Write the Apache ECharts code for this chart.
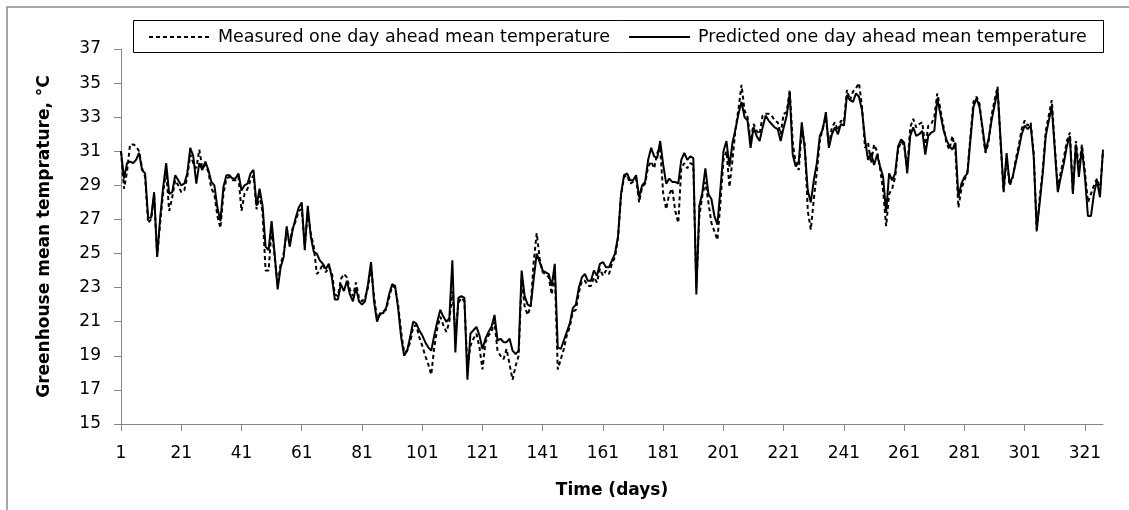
<!DOCTYPE html>
<html>
<head>
<meta charset="utf-8">
<script src="https://cdn.jsdelivr.net/npm/echarts@6/dist/echarts.min.js"></script>
<style>
html,body{margin:0;padding:0;background:#fff;}
#chart{width:1129px;height:510px;}
</style>
</head>
<body>
<div id="chart"></div>
<script>
// ---- data ----
const dayCount = 327;
const days = Array.from({length: dayCount}, (_, i) => String(i + 1));
const xTickLabels = ['1','21','41','61','81','101','121','141','161','181','201','221','241','261','281','301','321'];
const yTicks = [15,17,19,21,23,25,27,29,31,33,35,37];
const seriesNames = ['Measured one day ahead mean temperature', 'Predicted one day ahead mean temperature'];

const measured = [
31.0,28.8,29.8,31.4,31.4,31.3,31.0,30.0,29.5,26.8,
27.0,28.4,24.9,26.8,28.6,29.8,27.5,28.3,29.3,29.0,
28.6,28.7,29.5,30.8,30.3,30.0,31.1,30.0,30.2,29.8,
28.8,28.5,27.2,26.5,28.5,29.4,29.5,29.3,29.3,29.5,
27.5,28.5,28.8,29.3,29.6,27.6,28.4,27.4,24.0,24.0,
26.5,24.8,23.2,24.4,25.0,26.2,25.7,26.5,26.9,27.5,
27.6,25.5,27.4,26.2,25.4,23.8,24.0,24.4,23.9,24.2,
23.9,22.6,22.5,23.5,23.8,23.6,22.9,22.5,23.3,22.4,
22.2,22.4,23.0,24.2,22.5,21.2,21.4,21.6,21.7,22.4,
23.1,23.0,22.0,20.4,19.2,19.3,19.8,20.7,20.8,20.1,
19.6,19.0,18.5,17.9,19.5,20.6,21.3,20.8,20.4,21.0,
22.8,20.3,22.1,22.4,22.2,18.3,19.6,20.0,20.3,19.5,
18.2,19.8,20.2,20.4,21.0,19.3,19.0,18.8,19.4,18.5,
17.6,18.4,19.0,23.5,21.9,21.4,21.9,24.5,26.2,24.7,
23.9,23.8,23.6,22.6,24.0,18.2,18.8,19.4,20.2,20.7,
21.6,21.7,22.7,23.4,23.4,23.1,23.1,23.6,23.3,24.1,
23.7,24.0,23.8,24.4,24.8,25.9,28.4,29.5,29.6,29.1,
29.2,29.4,28.0,28.9,29.1,30.1,30.4,30.0,30.9,31.2,
28.5,27.6,28.5,28.8,27.5,26.8,30.0,30.3,30.0,30.3,
30.2,23.0,27.2,28.4,29.2,28.0,26.8,26.3,25.8,28.0,
30.5,31.0,28.9,30.5,32.3,33.5,34.9,33.4,33.0,31.6,
32.6,32.2,32.0,33.1,33.2,33.2,33.1,32.8,32.7,32.0,
33.2,33.3,34.6,31.5,30.3,29.9,32.3,31.4,27.5,26.4,
28.2,29.8,31.6,32.4,33.0,31.3,32.4,32.7,32.2,32.8,
32.7,34.6,34.0,34.5,34.7,35.0,33.6,31.2,31.5,30.3,
31.4,31.0,30.0,28.7,26.6,28.5,28.8,29.5,31.1,31.6,
31.3,30.0,32.4,32.9,32.4,32.6,32.7,31.2,32.5,32.6,
33.0,34.4,33.5,32.5,31.5,31.1,31.9,31.0,27.7,28.8,
29.3,29.8,31.9,33.9,34.2,33.8,32.2,30.9,31.5,33.1,
34.0,34.8,31.5,28.6,30.6,29.0,29.4,30.5,31.3,32.3,
32.8,32.5,32.7,30.9,26.3,28.3,29.9,32.2,33.1,34.0,
31.3,28.8,29.8,30.6,31.6,32.1,28.6,31.6,30.0,31.4,
29.8,28.0,28.5,29.0,29.4,28.7,31.0
];

const predicted = [
31.0,29.4,30.3,30.4,30.3,30.5,30.9,29.9,29.7,27.1,
27.1,28.6,24.8,27.1,28.9,30.3,28.5,28.6,29.6,29.3,
29.0,29.1,29.7,31.2,30.7,29.1,30.3,29.9,30.4,29.9,
29.2,29.0,27.7,26.9,28.9,29.6,29.6,29.4,29.4,29.7,
28.7,29.0,29.1,29.7,29.9,27.8,28.8,27.8,25.4,25.2,
26.9,25.0,22.9,24.2,24.8,26.6,25.4,26.4,27.1,27.7,
28.0,25.2,27.8,26.0,25.1,25.0,24.6,24.4,24.1,24.4,
23.6,22.3,22.3,23.2,22.8,23.4,22.6,22.2,23.0,22.2,
22.0,22.2,23.2,24.5,22.2,21.0,21.5,21.5,21.8,22.6,
23.2,23.1,21.8,20.1,19.0,19.3,20.1,21.0,20.9,20.5,
20.2,19.8,19.5,19.3,20.2,21.0,21.7,21.3,21.0,21.2,
24.6,19.2,22.4,22.5,22.4,17.6,20.3,20.5,20.7,20.2,
19.4,20.0,20.4,20.7,21.4,19.9,20.0,19.8,19.8,20.0,
19.3,19.1,19.3,24.0,22.5,22.0,21.9,23.5,25.0,24.5,
24.0,23.9,23.8,23.1,24.4,19.5,19.4,19.9,20.4,20.9,
21.8,22.0,23.0,23.6,23.8,23.4,23.4,24.0,23.7,24.4,
24.5,24.2,24.2,24.6,25.0,26.0,28.5,29.6,29.7,29.3,
29.3,29.6,28.3,29.0,29.2,30.5,31.2,30.7,30.6,31.6,
30.2,29.1,29.4,29.2,29.2,29.1,30.5,30.9,30.5,30.7,
30.6,22.6,27.8,28.6,30.0,28.5,28.2,27.2,26.7,28.8,
31.0,31.6,30.1,31.5,32.3,33.2,33.9,33.0,32.8,31.2,
32.4,31.9,31.6,32.4,33.1,32.8,32.6,32.4,32.3,31.6,
32.4,33.1,34.4,30.8,30.1,30.4,32.7,31.1,28.7,28.0,
29.3,30.3,31.9,32.3,33.3,31.2,32.0,32.4,32.0,32.6,
32.5,34.3,34.0,33.9,34.4,34.2,33.4,31.7,30.5,30.9,
30.2,30.8,30.1,29.5,27.4,29.7,29.3,29.7,31.3,31.7,
31.5,29.7,31.9,32.4,31.9,32.0,32.2,30.8,31.9,32.1,
32.2,34.1,33.2,32.3,31.7,31.3,31.1,31.5,28.3,29.1,
29.5,29.7,31.7,33.6,34.1,33.6,32.4,31.0,31.7,32.8,
33.7,34.6,31.7,28.7,30.9,29.1,29.5,30.3,31.1,32.0,
32.5,32.3,32.5,30.7,26.4,28.0,29.7,31.9,32.8,33.6,
31.1,28.6,29.5,30.3,31.3,31.9,28.5,31.4,29.5,31.2,
29.5,27.2,27.2,28.5,29.3,28.3,31.1
];

// ---- chart ----
const chart = echarts.init(document.getElementById('chart'), null, {renderer: 'canvas'});
const axisGray = '#868686';
const labelFont = 'DejaVu Sans';

chart.setOption({
  animation: false,
  backgroundColor: '#ffffff',
  grid: {left: 121, right: 26, top: 49, bottom: 86, containLabel: false},
  graphic: [
    {type: 'rect', shape: {x: 7, y: 7, width: 1200, height: 600},
     style: {fill: 'none', stroke: '#8c8c8c', lineWidth: 1.5}, silent: true, z: -10},
    {type: 'rect', shape: {x: 133.5, y: 20.5, width: 970, height: 32},
     style: {fill: '#fff', stroke: '#000', lineWidth: 1}, silent: true, z: 90}
  ],
  legend: {
    show: true,
    left: 148, top: 28,
    padding: 0,
    itemWidth: 61, itemHeight: 16, itemGap: 18,
    z: 100,
    icon: 'inherit',
    itemStyle: {color: 'rgba(0,0,0,0)', borderWidth: 0, opacity: 0},
    textStyle: {fontFamily: labelFont, fontSize: 17.5, color: '#000', padding: [0,0,0,3]},
    data: seriesNames
  },
  xAxis: {
    type: 'category',
    data: days,
    boundaryGap: false,
    name: 'Time (days)',
    nameLocation: 'middle',
    nameGap: 58,
    nameTextStyle: {fontFamily: labelFont, fontWeight: 'bold', fontSize: 17, color: '#000'},
    axisLine: {lineStyle: {color: axisGray, width: 1}},
    axisTick: {show: true, interval: 19, alignWithLabel: true, length: 7, lineStyle: {color: axisGray}},
    axisLabel: {interval: 19, margin: 21, fontFamily: labelFont, fontSize: 17, color: '#000',
      formatter: v => xTickLabels.includes(v) ? v : ''},
    splitLine: {show: false}
  },
  yAxis: {
    type: 'value',
    min: yTicks[0], max: yTicks[yTicks.length - 1], interval: 2,
    name: 'Greenhouse mean temprature, \u00B0C',
    nameLocation: 'middle',
    nameRotate: 90,
    nameGap: 68,
    nameTextStyle: {fontFamily: labelFont, fontWeight: 'bold', fontSize: 17, color: '#000'},
    axisLine: {show: true, lineStyle: {color: axisGray, width: 1}},
    axisTick: {show: true, length: 7, lineStyle: {color: axisGray}},
    axisLabel: {margin: 20, fontFamily: labelFont, fontSize: 17, color: '#000'},
    splitLine: {show: false}
  },
  series: [
    {
      name: seriesNames[0], type: 'line', data: measured,
      symbol: 'none', smooth: false, z: 2,
      lineStyle: {color: '#000', width: 2, type: [4, 3]},
      itemStyle: {color: '#000'}
    },
    {
      name: seriesNames[1], type: 'line', data: predicted,
      symbol: 'none', smooth: false, z: 3,
      lineStyle: {color: '#000', width: 2, type: 'solid'},
      itemStyle: {color: '#000'}
    }
  ]
});
</script>
</body>
</html>
